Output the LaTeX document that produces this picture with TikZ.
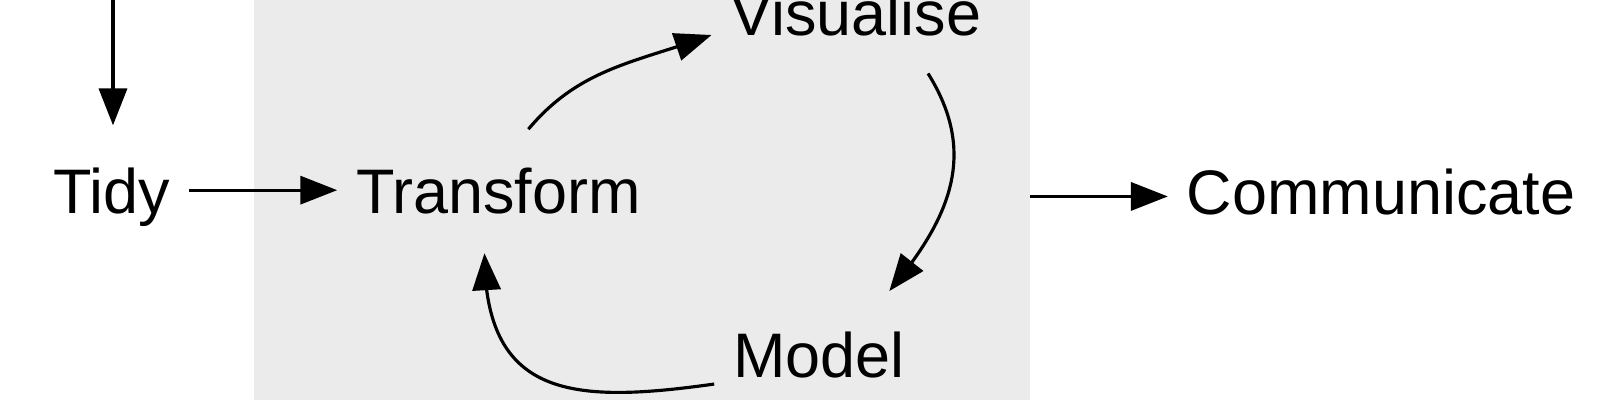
\documentclass[tikz,border=0pt]{standalone}
\usepackage{fontspec}
\setmainfont{Liberation Sans}
\usetikzlibrary{arrows.meta,bending}

\begin{document}
\begin{tikzpicture}[>={Triangle[length=10.5pt,width=8pt,flex]},line width=0.9pt]
%\draw[help lines] (0,0) grid (16,4);
\tikzstyle{v}=[inner sep=5pt,text height=13pt,text depth=0pt,anchor=base,font=\fontsize{17.9pt}{21pt}\selectfont]
\useasboundingbox (0,0) rectangle (16,4);

\node[fill=black!8,draw=none,inner sep=0,outer sep=0,minimum width=7.76cm,minimum height=4cm,anchor=south west] (program) at (2.54,0) {};

\node[v] (tidy) at (1.115,1.87) {Tidy};
\node[v] (transform) at (4.985,1.87) {Transform};
\node[v] (visualise) at (8.56,3.65) {Visualise};
\node[v] (model) at (8.19,0.23) {Model};
\node[v] (communicate) at (13.81,1.86) {Communicate};
\coordinate (import) at (1.13,4.05);

\path (import) edge[->,shorten >=6.5pt] (import |- tidy.north);
\path (tidy) edge[->] (transform);
\path ([xshift=8.5pt,yshift=5.4pt]transform.north) edge[->,out=50,in=200] (visualise.base west);
\path ([xshift=20.5pt,yshift=-5.5pt]visualise.south) edge[->,out=-58,in=50,looseness=1.1] ([xshift=20pt,yshift=6pt]model.north);
\path ([yshift=-2pt]model.base west) edge[->,out=188,in=-90,looseness=1.4] ([xshift=-4pt,yshift=-6pt]transform.south);
\path ([yshift=-1.5pt]program.east |- communicate.west) edge[->] ([yshift=-1.5pt]communicate.west);
\end{tikzpicture}
\end{document}
